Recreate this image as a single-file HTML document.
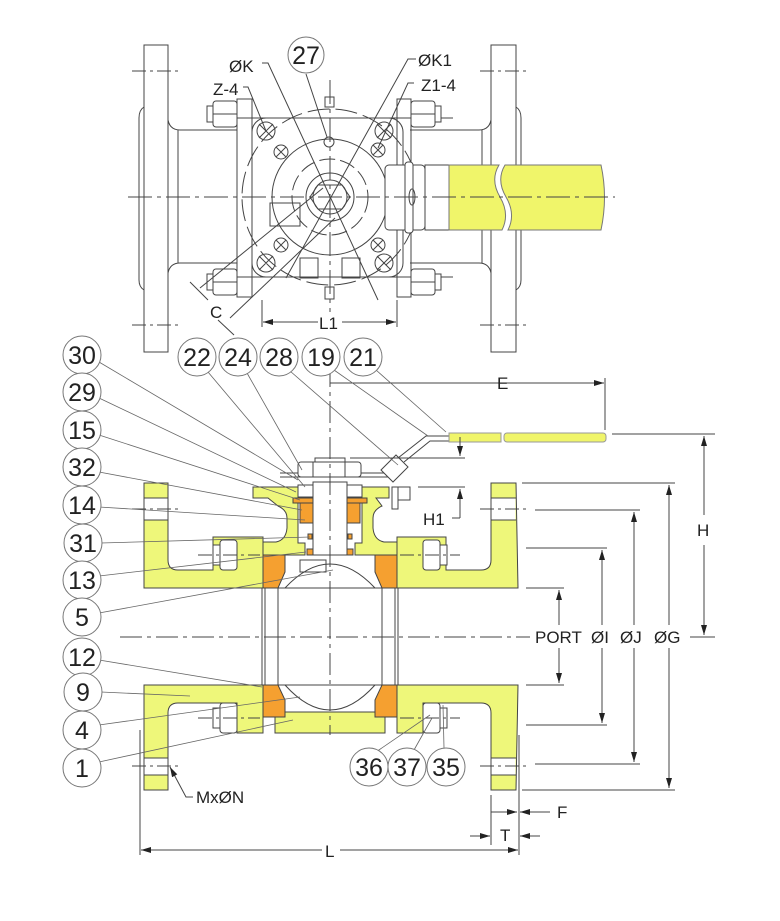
<!DOCTYPE html>
<html><head><meta charset="utf-8"><style>
html,body{margin:0;padding:0;background:#fff}
svg{display:block}
text{font-family:"Liberation Sans",sans-serif;fill:#222}
</style></head><body>
<svg width="780" height="921" viewBox="0 0 780 921" xmlns="http://www.w3.org/2000/svg">
<defs>
<marker id="ar" viewBox="0 0 10 6" refX="10" refY="3" markerWidth="10" markerHeight="6" orient="auto-start-reverse" markerUnits="userSpaceOnUse"><path d="M0,0 L10,3 L0,6 Z" fill="#222"/></marker>
</defs>
<g stroke="#444" stroke-width="1" fill="none">
<!-- ============ TOP VIEW ============ -->
<rect x="144" y="45" width="24" height="307" fill="#fff"/>
<rect x="491" y="45" width="25" height="307" fill="#fff"/>
<path d="M144,107 Q139,110 139,118 V280 Q139,287 144,290"/>
<path d="M516,107 Q521,110 521,118 V280 Q521,287 516,290"/>
<path d="M168,120 Q170,130 180,130 H237 M168,273 Q170,263 180,263 H237 M178,130 V263"/>
<path d="M491,120 Q489,130 479,130 H410 M491,273 Q489,263 479,263 H410 M482,130 V263"/>
<line x1="132" y1="71" x2="180" y2="71" stroke-dasharray="14,4,3,4"/>
<line x1="132" y1="325" x2="180" y2="325" stroke-dasharray="14,4,3,4"/>
<line x1="480" y1="71" x2="527" y2="71" stroke-dasharray="14,4,3,4"/>
<line x1="480" y1="325" x2="527" y2="325" stroke-dasharray="14,4,3,4"/>
<rect x="237" y="99" width="15" height="198"/>
<rect x="397" y="99" width="14" height="198"/>
<line x1="213" y1="118" x2="453" y2="118"/>
<line x1="213" y1="277" x2="453" y2="277"/>
<rect x="252" y="118" width="151" height="159" rx="14"/>
<g fill="#fff">
<rect x="213" y="101" width="24" height="26" rx="3"/><rect x="207" y="106" width="6" height="16"/>
<rect x="213" y="269" width="24" height="26" rx="3"/><rect x="207" y="274" width="6" height="16"/>
<rect x="411" y="101" width="24" height="26" rx="3"/><rect x="435" y="106" width="6" height="16"/>
<rect x="411" y="269" width="24" height="26" rx="3"/><rect x="435" y="274" width="6" height="16"/>
</g>
<line x1="213" y1="114" x2="237" y2="114"/><line x1="213" y1="282" x2="237" y2="282"/>
<line x1="411" y1="114" x2="435" y2="114"/><line x1="411" y1="282" x2="435" y2="282"/>
<circle cx="330" cy="197" r="88" stroke-dasharray="22,6"/>
<circle cx="330" cy="197" r="58"/>
<circle cx="330" cy="197" r="38" stroke-dasharray="16,5"/>
<circle cx="330" cy="197" r="24"/>
<polygon points="318,185 342,185 350,197 342,209 318,209 310,197"/>
<circle cx="330" cy="197" r="17"/>
<circle cx="329" cy="142" r="5"/>
<rect x="325" y="97" width="9" height="10"/>
<rect x="325" y="287" width="9" height="12"/>
<circle cx="266" cy="131" r="9"/><circle cx="384" cy="131" r="9"/>
<circle cx="266" cy="263" r="9"/><circle cx="384" cy="263" r="9"/>
<circle cx="281" cy="152" r="7"/><circle cx="378" cy="150" r="7"/>
<circle cx="281" cy="245" r="7"/><circle cx="378" cy="245" r="7"/>
<path d="M259,124 l14,14 M273,124 l-14,14 M377,124 l14,14 M391,124 l-14,14 M259,256 l14,14 M273,256 l-14,14 M377,256 l14,14 M391,256 l-14,14 M276,147 l10,10 M286,147 l-10,10 M373,145 l10,10 M383,145 l-10,10 M276,240 l10,10 M286,240 l-10,10 M373,240 l10,10 M383,240 l-10,10"/>
<rect x="270" y="203" width="30" height="23"/>
<rect x="300" y="258" width="18" height="20"/><rect x="342" y="258" width="18" height="20"/>
<rect x="385" y="165" width="40" height="65" rx="4" fill="#fff"/>
<rect x="405" y="162" width="8" height="71" rx="3" fill="#fff"/>
<ellipse cx="412" cy="197" rx="3" ry="8"/>
<rect x="425" y="165" width="24" height="65"/>
<path d="M449,165 H499 Q490,180 500,197 Q510,214 502,230 H449 Z" fill="#f0f56a" stroke="#777"/>
<path d="M505,165 H601 Q608,197 601,230 H508 Q516,214 506,197 Q496,180 505,165 Z" fill="#f0f56a" stroke="#777"/>
<line x1="128" y1="197" x2="615" y2="197" stroke-dasharray="24,5,4,5"/>
<line x1="330" y1="80" x2="330" y2="312" stroke-dasharray="24,5,4,5"/>
<polyline points="262,63 268,63 378,300"/>
<polyline points="416,59 408,59 286,278"/>
<polyline points="243,87 248,87 266,131" />
<polyline points="414,83 408,83 378,148"/>
<line x1="306" y1="74" x2="327" y2="137"/>
<line x1="200" y1="288" x2="323" y2="188"/>
<line x1="230" y1="318" x2="335" y2="218"/>
<line x1="190" y1="282" x2="208" y2="300"/>
<line x1="218" y1="320" x2="234" y2="335"/>
<line x1="262" y1="300" x2="262" y2="327"/><line x1="397" y1="300" x2="397" y2="327"/>
<line x1="263" y1="322" x2="318" y2="322" marker-start="url(#ar)"/>
<line x1="342" y1="322" x2="396" y2="322" marker-end="url(#ar)"/>
</g>
<g font-size="17">
<text x="229" y="72">ØK</text>
<text x="418" y="66">ØK1</text>
<text x="213" y="95">Z-4</text>
<text x="421" y="91">Z1-4</text>
<text x="210" y="318">C</text>
<text x="319" y="329">L1</text>
</g>

<!-- ============ SIDE VIEW ============ -->
<g stroke="#444" stroke-width="1">
<path d="M144,483 H168 V560 Q168,570 178,570 H213 V537 H263 V588 H144 Z" fill="#eef77a"/>
<path d="M144,685 H263 V733 H237 V703 H178 Q168,703 168,713 V790 H144 Z" fill="#eef77a"/>
<path d="M516,483 H491 V560 Q491,570 481,570 H446 V537 H397 V588 H518 Z" fill="#eef77a"/>
<path d="M518,685 H397 V733 H423 V703 H481 Q491,703 491,713 V790 H516 Z" fill="#eef77a"/>
<rect x="144.5" y="498" width="23" height="22" fill="#fff" stroke="none"/>
<rect x="144.5" y="758" width="23" height="17" fill="#fff" stroke="none"/>
<rect x="491.5" y="498" width="24" height="22" fill="#fff" stroke="none"/>
<rect x="491.5" y="758" width="24" height="17" fill="#fff" stroke="none"/>
<path d="M144,498 H168 M144,520 H168 M144,758 H168 M144,775 H168 M491,498 H516 M491,520 H516 M491,758 H516 M491,775 H516" fill="none"/>
<path d="M253,487 H298 V543 H305 V555 H263 V542 H276 Q286,540 287,528 V518 Q287,510 278,506 L268,498 H253 Z" fill="#eef77a"/>
<path d="M389,487 H362 V543 H355 V555 H397 V542 H384 Q374,540 373,528 V518 Q373,510 382,506 L376,498 H389 Z" fill="#eef77a"/>
<path d="M285,712 H375 L385,717 V733 H275 V717 Z" fill="#eef77a"/>
<path d="M263,555 H285 V572 L278,588 H263 Z" fill="#f5a030"/>
<path d="M397,555 H375 V572 L382,588 H397 Z" fill="#f5a030"/>
<path d="M263,685 H278 L285,700 V717 H263 Z" fill="#f5a030"/>
<path d="M397,685 H382 L375,700 V717 H397 Z" fill="#f5a030"/>
<rect x="300" y="500" width="13" height="23" fill="#f5a030"/>
<rect x="347" y="500" width="13" height="23" fill="#f5a030"/>
<rect x="293" y="498" width="20" height="5" fill="#f5a030"/>
<rect x="347" y="498" width="20" height="5" fill="#f5a030"/>
<rect x="307" y="549" width="6" height="6" fill="#f5a030"/>
<rect x="347" y="549" width="6" height="6" fill="#f5a030"/>
<rect x="308" y="534" width="4" height="5" fill="#f5a030"/>
<rect x="348" y="534" width="4" height="5" fill="#f5a030"/>
<rect x="313" y="482" width="34" height="73" fill="#fff"/>
<rect x="298" y="485" width="15" height="12" fill="#fff"/>
<rect x="347" y="485" width="15" height="12" fill="#fff"/>
<line x1="280" y1="473" x2="392" y2="473"/><line x1="280" y1="477" x2="392" y2="477"/>
<rect x="298" y="462" width="63" height="15" rx="3" fill="#fff"/>
<line x1="313" y1="462" x2="313" y2="477"/><line x1="345" y1="462" x2="345" y2="477"/>
<rect x="315" y="458" width="30" height="4" fill="#fff"/>
<rect x="300" y="560" width="26" height="12" fill="#fff"/>
<rect x="392" y="487" width="18" height="13" fill="#fff"/>
<rect x="392" y="487" width="6" height="22" fill="#fff"/>
<polygon points="381,470 396,455 408,467 393,482" fill="#fff"/>
<polyline points="398,458 426,436 449,436" fill="none"/>
<polyline points="404,462 430,441 449,441" fill="none"/>
<rect x="449" y="433" width="52" height="9" fill="#f0f56a" stroke="#999"/>
<rect x="504" y="433" width="102" height="9" rx="3" fill="#f0f56a" stroke="#999"/>
<g fill="#fff">
<rect x="220" y="540" width="17" height="30" rx="3"/><rect x="213" y="545" width="7" height="20"/>
<rect x="423" y="540" width="17" height="30" rx="3"/><rect x="440" y="545" width="7" height="20"/>
<rect x="220" y="703" width="17" height="30" rx="3"/><rect x="213" y="708" width="7" height="20"/>
<rect x="423" y="703" width="17" height="30" rx="3"/><rect x="440" y="708" width="7" height="20"/>
</g>
</g>
<g stroke="#444" stroke-width="1" fill="none">
<line x1="144" y1="588" x2="518" y2="588"/><line x1="144" y1="685" x2="518" y2="685"/>
<path d="M285,588 Q330,540 375,588 M285,685 Q330,735 375,685"/>
<path d="M262,588 V685 M265,588 V685 M278,588 V685 M382,588 V685 M395,588 V685 M398,588 V685"/>
<line x1="120" y1="637" x2="530" y2="637" stroke-dasharray="22,5,4,5"/>
<line x1="330" y1="365" x2="330" y2="735" stroke-dasharray="22,5,4,5"/>
<line x1="132" y1="509" x2="180" y2="509" stroke-dasharray="14,4,3,4"/>
<line x1="132" y1="766" x2="180" y2="766" stroke-dasharray="14,4,3,4"/>
<line x1="480" y1="509" x2="527" y2="509" stroke-dasharray="14,4,3,4"/>
<line x1="480" y1="766" x2="527" y2="766" stroke-dasharray="14,4,3,4"/>
<line x1="198" y1="555" x2="260" y2="555" stroke-dasharray="14,4,3,4"/>
<line x1="198" y1="718" x2="260" y2="718" stroke-dasharray="14,4,3,4"/>
<line x1="400" y1="555" x2="460" y2="555" stroke-dasharray="14,4,3,4"/>
<line x1="400" y1="718" x2="460" y2="718" stroke-dasharray="14,4,3,4"/>
<line x1="330" y1="383" x2="604" y2="383" marker-end="url(#ar)"/>
<line x1="605" y1="378" x2="605" y2="430"/>
<line x1="612" y1="434" x2="715" y2="434"/>
<line x1="704" y1="436" x2="704" y2="515" marker-start="url(#ar)"/>
<line x1="704" y1="545" x2="704" y2="635" marker-end="url(#ar)"/>
<line x1="690" y1="637" x2="715" y2="637"/>
<line x1="522" y1="483" x2="675" y2="483"/><line x1="522" y1="790" x2="675" y2="790"/>
<line x1="669" y1="485" x2="669" y2="625" marker-start="url(#ar)"/>
<line x1="669" y1="648" x2="669" y2="788" marker-end="url(#ar)"/>
<line x1="535" y1="510" x2="640" y2="510"/><line x1="535" y1="764" x2="640" y2="764"/>
<line x1="634" y1="512" x2="634" y2="625" marker-start="url(#ar)"/>
<line x1="634" y1="648" x2="634" y2="762" marker-end="url(#ar)"/>
<line x1="526" y1="548" x2="607" y2="548"/><line x1="526" y1="725" x2="607" y2="725"/>
<line x1="602" y1="550" x2="602" y2="625" marker-start="url(#ar)"/>
<line x1="602" y1="648" x2="602" y2="723" marker-end="url(#ar)"/>
<line x1="526" y1="588" x2="564" y2="588"/><line x1="526" y1="685" x2="564" y2="685"/>
<line x1="559" y1="590" x2="559" y2="625" marker-start="url(#ar)"/>
<line x1="559" y1="648" x2="559" y2="683" marker-end="url(#ar)"/>
<line x1="350" y1="458" x2="465" y2="458"/><line x1="418" y1="487" x2="465" y2="487"/>
<line x1="460" y1="437" x2="460" y2="456" marker-end="url(#ar)"/>
<line x1="460" y1="518" x2="460" y2="489" marker-end="url(#ar)"/>
<line x1="452" y1="518" x2="460" y2="518"/>
<line x1="140" y1="730" x2="140" y2="855"/><line x1="519" y1="735" x2="519" y2="855"/>
<line x1="491" y1="795" x2="491" y2="845"/>
<line x1="141" y1="850" x2="322" y2="850" marker-start="url(#ar)"/>
<line x1="340" y1="850" x2="518" y2="850" marker-end="url(#ar)"/>
<line x1="470" y1="836" x2="490" y2="836" marker-end="url(#ar)"/>
<line x1="540" y1="836" x2="520" y2="836" marker-end="url(#ar)"/>
<line x1="491" y1="812" x2="517" y2="812" marker-end="url(#ar)"/>
<line x1="550" y1="812" x2="520" y2="812" marker-end="url(#ar)"/>
<polyline points="193,797 186,797 170,767" marker-end="url(#ar)"/>
<g stroke="#666" stroke-width="0.8">
<line x1="99" y1="362" x2="298" y2="480"/>
<line x1="99" y1="398" x2="296" y2="492"/>
<line x1="99" y1="435" x2="300" y2="500"/>
<line x1="99" y1="472" x2="302" y2="510"/>
<line x1="99" y1="507" x2="305" y2="520"/>
<line x1="101" y1="543" x2="310" y2="537"/>
<line x1="99" y1="576" x2="306" y2="552"/>
<line x1="99" y1="613" x2="333" y2="570"/>
<line x1="99" y1="660" x2="262" y2="687"/>
<line x1="101" y1="692" x2="190" y2="696"/>
<line x1="99" y1="725" x2="300" y2="697"/>
<line x1="99" y1="762" x2="293" y2="720"/>
<line x1="208" y1="372" x2="305" y2="487"/>
<line x1="247" y1="373" x2="302" y2="470"/>
<line x1="290" y1="371" x2="398" y2="465"/>
<line x1="334" y1="370" x2="428" y2="436"/>
<line x1="376" y1="370" x2="446" y2="432"/>
<line x1="376" y1="752" x2="430" y2="715"/>
<line x1="414" y1="750" x2="432" y2="718"/>
<line x1="444" y1="748" x2="443" y2="705"/>
</g>
</g>
<g stroke="#777" stroke-width="1" fill="#fff">
<circle cx="306" cy="55" r="18"/>
<circle cx="82" cy="355" r="19"/><circle cx="82" cy="392" r="19"/><circle cx="82" cy="430" r="19"/>
<circle cx="82" cy="467" r="19"/><circle cx="82" cy="505" r="19"/><circle cx="83" cy="543" r="19"/>
<circle cx="82" cy="580" r="19"/><circle cx="82" cy="617" r="19"/><circle cx="82" cy="657" r="19"/>
<circle cx="83" cy="692" r="19"/><circle cx="82" cy="730" r="19"/><circle cx="82" cy="768" r="19"/>
<circle cx="197" cy="357" r="19"/><circle cx="238" cy="357" r="19"/><circle cx="279" cy="357" r="19"/>
<circle cx="321" cy="357" r="19"/><circle cx="363" cy="357" r="19"/>
<circle cx="369" cy="767" r="19"/><circle cx="407" cy="767" r="19"/><circle cx="446" cy="767" r="19"/>
</g>
<g font-size="25" text-anchor="middle">
<text x="306" y="64">27</text>
<text x="82" y="364">30</text><text x="82" y="401">29</text><text x="82" y="439">15</text>
<text x="82" y="476">32</text><text x="82" y="514">14</text><text x="83" y="552">31</text>
<text x="82" y="589">13</text><text x="82" y="626">5</text><text x="82" y="666">12</text>
<text x="83" y="701">9</text><text x="82" y="739">4</text><text x="82" y="777">1</text>
<text x="197" y="366">22</text><text x="238" y="366">24</text><text x="279" y="366">28</text>
<text x="321" y="366">19</text><text x="363" y="366">21</text>
<text x="369" y="776">36</text><text x="407" y="776">37</text><text x="446" y="776">35</text>
</g>
<g font-size="17">
<text x="497" y="389">E</text>
<text x="423" y="525">H1</text>
<text x="697" y="536">H</text>
<text x="535" y="643">PORT</text>
<text x="591" y="643">ØI</text>
<text x="620" y="643">ØJ</text>
<text x="654" y="643">ØG</text>
<text x="557" y="818">F</text>
<text x="500" y="841">T</text>
<text x="325" y="857">L</text>
<text x="196" y="803">MxØN</text>
</g>
</svg>
</body></html>
